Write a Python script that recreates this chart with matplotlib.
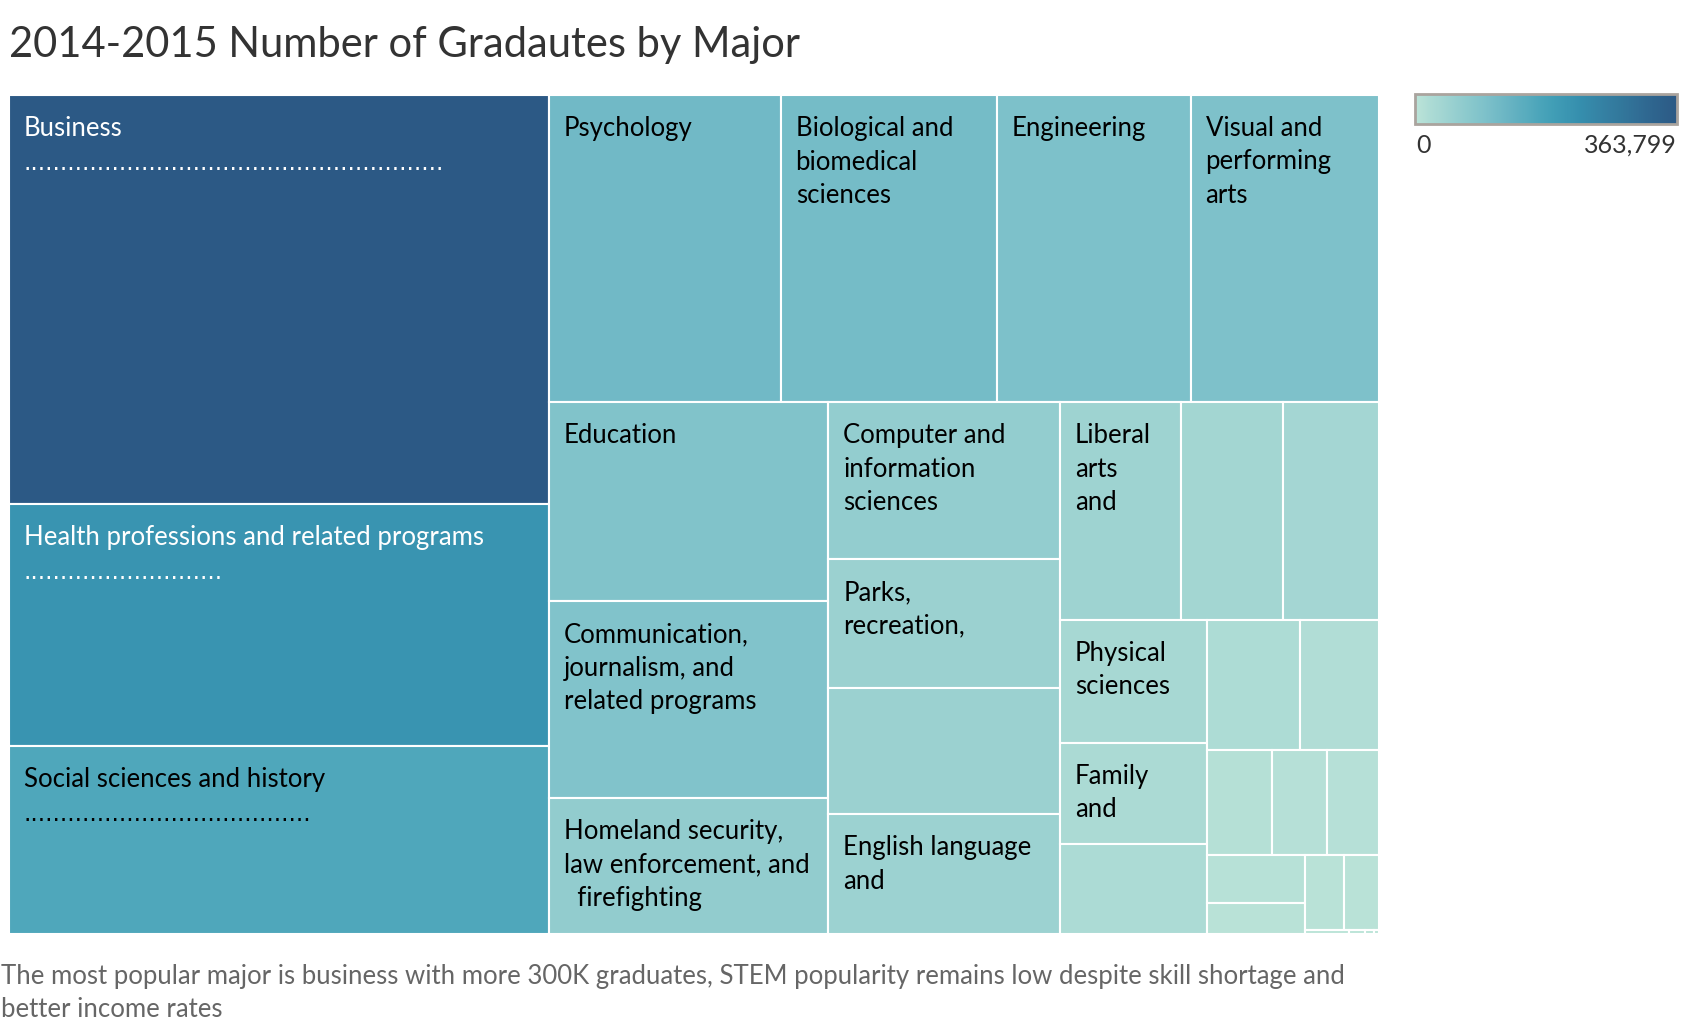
import matplotlib
matplotlib.use("Agg")
import matplotlib.pyplot as plt
from matplotlib.colors import LinearSegmentedColormap, Normalize
from matplotlib.cm import ScalarMappable
from matplotlib.patches import Rectangle

plt.rcParams['font.family'] = ['Lato', 'DejaVu Sans']

# Number of graduates per major, 2014-2015 (largest first)
majors = [
    "Business", "Health professions and related programs", "Social sciences and history",
    "Psychology", "Biological and biomedical sciences", "Engineering",
    "Visual and performing arts", "Education", "Communication, journalism, and related programs",
    "Homeland security, law enforcement, and firefighting", "Computer and information sciences",
    "Parks, recreation, leisure, and fitness studies", "Multi/interdisciplinary studies",
    "English language and literature", "Liberal arts and sciences, general studies, and humanities",
    "Agriculture and natural resources", "Public administration and social services",
    "Physical sciences", "Family and consumer sciences", "Mathematics and statistics",
    "Foreign languages and literatures", "Engineering technologies", "Philosophy and religious studies",
    "Theology and religious vocations", "Architecture", "Area, ethnic, cultural, and gender studies",
    "Communications technologies", "Transportation and materials moving", "Legal professions",
    "Military technologies", "Library science", "Precision production", "Construction trades",
]
graduates = [
    363799, 216000, 167000,
    117600, 109700, 98000,
    95500, 92000, 90500,
    63000, 60000,
    49000, 48400,
    45700, 43700,
    36500, 34400,
    30000, 24600, 21900,
    20000, 17000, 11100,
    9600, 8900, 7800,
    5000, 4800, 4400,
    290, 110, 60, 30,
]
# text shown in each cell ('' = label hidden)
labels = [
    "Business", "Health professions and related programs", "Social sciences and history",
    "Psychology", "Biological and\nbiomedical\nsciences", "Engineering",
    "Visual and\nperforming\narts", "Education", "Communication,\njournalism, and\nrelated programs",
    "Homeland security,\nlaw enforcement, and\n  firefighting", "Computer and\ninformation\nsciences",
    "Parks,\nrecreation,", "",
    "English language\nand", "Liberal\narts\nand",
    "", "",
    "Physical\nsciences", "Family\nand", "",
    "", "", "",
    "", "", "",
    "", "", "",
    "", "", "", "",
]
# dotted line under the three biggest labels (number of dots)
dots = [57, 27, 39]
white_text = ["Business", "Health professions and related programs"]

blue_teal = ['#bce4d8', '#aedcd5', '#a1d5d2', '#95cecf', '#89c8cc', '#7ec1ca', '#72bac6',
             '#66b2c2', '#59acbe', '#4ba5ba', '#419eb6', '#3b96b2', '#358ead', '#3586a7',
             '#347ea1', '#32779b', '#316f96', '#2f6790', '#2d608a', '#2c5985']
cmap = LinearSegmentedColormap.from_list("blue_teal", blue_teal)
norm = Normalize(0, max(graduates))


def squarify(areas, x, y, w, h):
    """Lay out strips; a strip keeps growing until its first cell becomes flatter than the strip."""
    rects = []
    i = 0
    n = len(areas)
    while i < n:
        vertical = w >= h
        side = h if vertical else w
        j = i
        while True:
            total = sum(areas[i:j + 1])
            thick = total / side
            if areas[i] / thick < thick or j == n - 1:
                break
            j += 1
        pos = y if vertical else x
        for a in areas[i:j + 1]:
            length = a / thick
            if vertical:
                rects.append((x, pos, thick, length))
            else:
                rects.append((pos, y, length, thick))
            pos += length
        if vertical:
            x += thick
            w -= thick
        else:
            y += thick
            h -= thick
        i = j + 1
    return rects


W, H = 1370.0, 839.0
scale = W * H / sum(graduates)
rects = squarify([g * scale for g in graduates], 0, 0, W, H)

fig = plt.figure(figsize=(16.86, 10.26), dpi=100)
ax = fig.add_axes([9 / 1686, 1 - 934 / 1026, W / 1686, H / 1026])
ax.set_xlim(0, W)
ax.set_ylim(H, 0)
ax.axis('off')

line_h = 33.5
for k, ((rx, ry, rw, rh), name, g, lab) in enumerate(zip(rects, majors, graduates, labels)):
    ax.add_patch(Rectangle((rx, ry), rw, rh, facecolor=cmap(norm(g)),
                           edgecolor='white', linewidth=1.5))
    if not lab:
        continue
    color = 'white' if name in white_text else 'black'
    for li, line in enumerate(lab.split("\n")):
        ax.text(rx + 15, ry + 41 + li * line_h, line, ha='left', va='baseline',
                fontsize=18.5, color=color)
    if k < len(dots):
        ax.text(rx + 15, ry + 75, "." * dots[k], ha='left', va='baseline',
                fontsize=17, family='DejaVu Sans', color=color)

fig.text(9 / 1686, 1 - 57 / 1026, "2014-2015 Number of Gradautes by Major",
         ha='left', va='baseline', fontsize=30, color='#333333')

fig.text(1 / 1686, 1 - 993 / 1026,
         "The most popular major is business with more 300K graduates, STEM popularity "
         "remains low despite skill shortage and\nbetter income rates",
         ha='left', va='center', fontsize=18.5, color='#666666', linespacing=1.42)

cax = fig.add_axes([1415 / 1686, 1 - 124 / 1026, 262 / 1686, 30 / 1026])
cb = fig.colorbar(ScalarMappable(norm=norm, cmap=cmap), cax=cax, orientation='horizontal')
cb.set_ticks([])
cb.outline.set_edgecolor('#aaa49e')
cb.outline.set_linewidth(2)
fig.text(1416 / 1686, 1 - 153 / 1026, "0", ha='left', va='baseline', fontsize=18, color='#333333')
fig.text(1677 / 1686, 1 - 153 / 1026, f"{max(graduates):,}", ha='right', va='baseline',
         fontsize=18, color='#333333')

fig.savefig("out.png", dpi=100)
